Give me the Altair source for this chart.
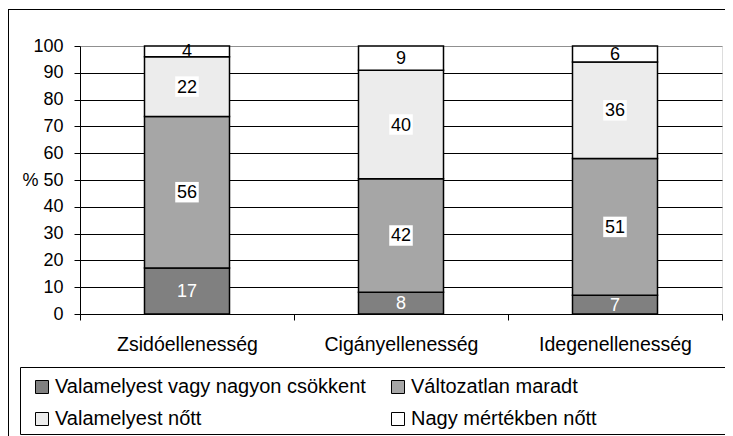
import altair as alt
import pandas as pd

categories = ["Zsidóellenesség", "Cigányellenesség", "Idegenellenesség"]
series = ["Valamelyest vagy nagyon csökkent", "Változatlan maradt",
          "Valamelyest nőtt", "Nagy mértékben nőtt"]
csokkent = [17, 8, 7]
valtozatlan = [56, 42, 51]
valamelyest_nott = [22, 40, 36]
nagy_nott = [4, 9, 6]
y_ticks = [0, 10, 20, 30, 40, 50, 60, 70, 80, 90, 100]

series_values = [csokkent, valtozatlan, valamelyest_nott, nagy_nott]
colors = ["#808080", "#a6a6a6", "#ececec", "#ffffff"]
label_colors = ["#ffffff", "#000000", "#000000", "#000000"]
label_bg = [False, True, True, False]

rows = []
for si, s in enumerate(series):
    for ci, c in enumerate(categories):
        rows.append({"category": c, "series": s, "order": si,
                     "value": series_values[si][ci],
                     "tcolor": label_colors[si], "bg": label_bg[si]})
df = pd.DataFrame(rows)

FONT = "Liberation Sans"

base = alt.Chart(df).transform_stack(
    stack="value", groupby=["category"], sort=[alt.SortField("order")],
    as_=["y0", "y1"], offset="normalize"
).transform_calculate(mid="(datum.y0 + datum.y1) / 2")

x_axis = alt.Axis(labelAngle=0, labelFont=FONT, labelFontSize=19.5,
                  labelColor="#000", tickBand="extent", tickSize=6,
                  tickColor="#000", domainColor="#000", labelPadding=15,
                  grid=False)
x_enc = alt.X("category:N", sort=categories, title=None,
              scale=alt.Scale(paddingInner=0, paddingOuter=0), axis=x_axis)

y_scale = alt.Scale(domain=[0, 1], nice=False)
y_axis = alt.Axis(values=[v / 100 for v in y_ticks],
                  labelExpr="datum.value > 0.49 && datum.value < 0.51 ? '% 50' : format(datum.value * 100, '.0f')",
                  labelFont=FONT, labelFontSize=18, labelColor="#000",
                  tickSize=6, tickColor="#000", domainColor="#000",
                  labelPadding=11, labelOverlap=False,
                  gridColor=alt.condition("datum.value > 0.99", alt.value("#909090"), alt.value("#000000")),
                  gridWidth=1)

bars = base.mark_bar(width=85, stroke="#000", strokeWidth=1.5).encode(
    x=x_enc,
    y=alt.Y("y0:Q", title=None, scale=y_scale, axis=y_axis),
    y2="y1:Q",
    color=alt.Color("series:N", sort=series,
                    scale=alt.Scale(domain=series, range=colors),
                    legend=alt.Legend(title=None, orient="none", columns=2,
                                      direction="horizontal",
                                      legendX=-48, legendY=331, padding=0,
                                      symbolType="square", symbolSize=169,
                                      symbolStrokeColor="#000", symbolStrokeWidth=1,
                                      symbolOpacity=1,
                                      labelFont=FONT, labelFontSize=20,
                                      labelColor="#000", labelOffset=3,
                                      rowPadding=12, columnPadding=22,
                                      labelLimit=400)),
    order=alt.Order("order:Q"),
)

bg = base.transform_filter("datum.bg").mark_point(
    shape="M -1.15 -1 L 1.15 -1 L 1.15 1 L -1.15 1 Z", filled=True,
    fill="#ffffff", opacity=1, size=420, strokeWidth=0
).encode(x=alt.X("category:N", sort=categories, title=None, axis=x_axis),
         y=alt.Y("mid:Q", title=None, scale=y_scale, axis=y_axis))

labels = base.mark_text(font=FONT, fontSize=18, baseline="middle", dy=1).encode(
    x=alt.X("category:N", sort=categories, title=None, axis=x_axis),
    y=alt.Y("mid:Q", title=None, scale=y_scale, axis=y_axis),
    text=alt.Text("value:Q"),
    color=alt.Color("tcolor:N", scale=None),
)

deco = pd.DataFrame({"d": [0]})
legend_box = alt.Chart(deco).mark_rect(fill=None, stroke="#000", strokeWidth=1).encode(
    x=alt.value(-59.5), x2=alt.value(680), y=alt.value(321.5), y2=alt.value(388.5)
)
outer_top = alt.Chart(deco).mark_rule(stroke="#000", strokeWidth=1).encode(
    x=alt.value(-72), x2=alt.value(680), y=alt.value(-36.5)
)
outer_left = alt.Chart(deco).mark_rule(stroke="#000", strokeWidth=1).encode(
    x=alt.value(-71.5), y=alt.value(-37), y2=alt.value(500)
)

chart = alt.layer(bars, bg, labels, legend_box, outer_top, outer_left).properties(
    width=642, height=268,
    autosize=alt.AutoSizeParams(type="none"),
    padding={"left": 72, "top": 38, "right": 3, "bottom": 122},
).configure_view(stroke="#909090", strokeWidth=1).configure(background="#ffffff")

chart.save("out.html", embed_options={"renderer": "svg", "actions": False})
